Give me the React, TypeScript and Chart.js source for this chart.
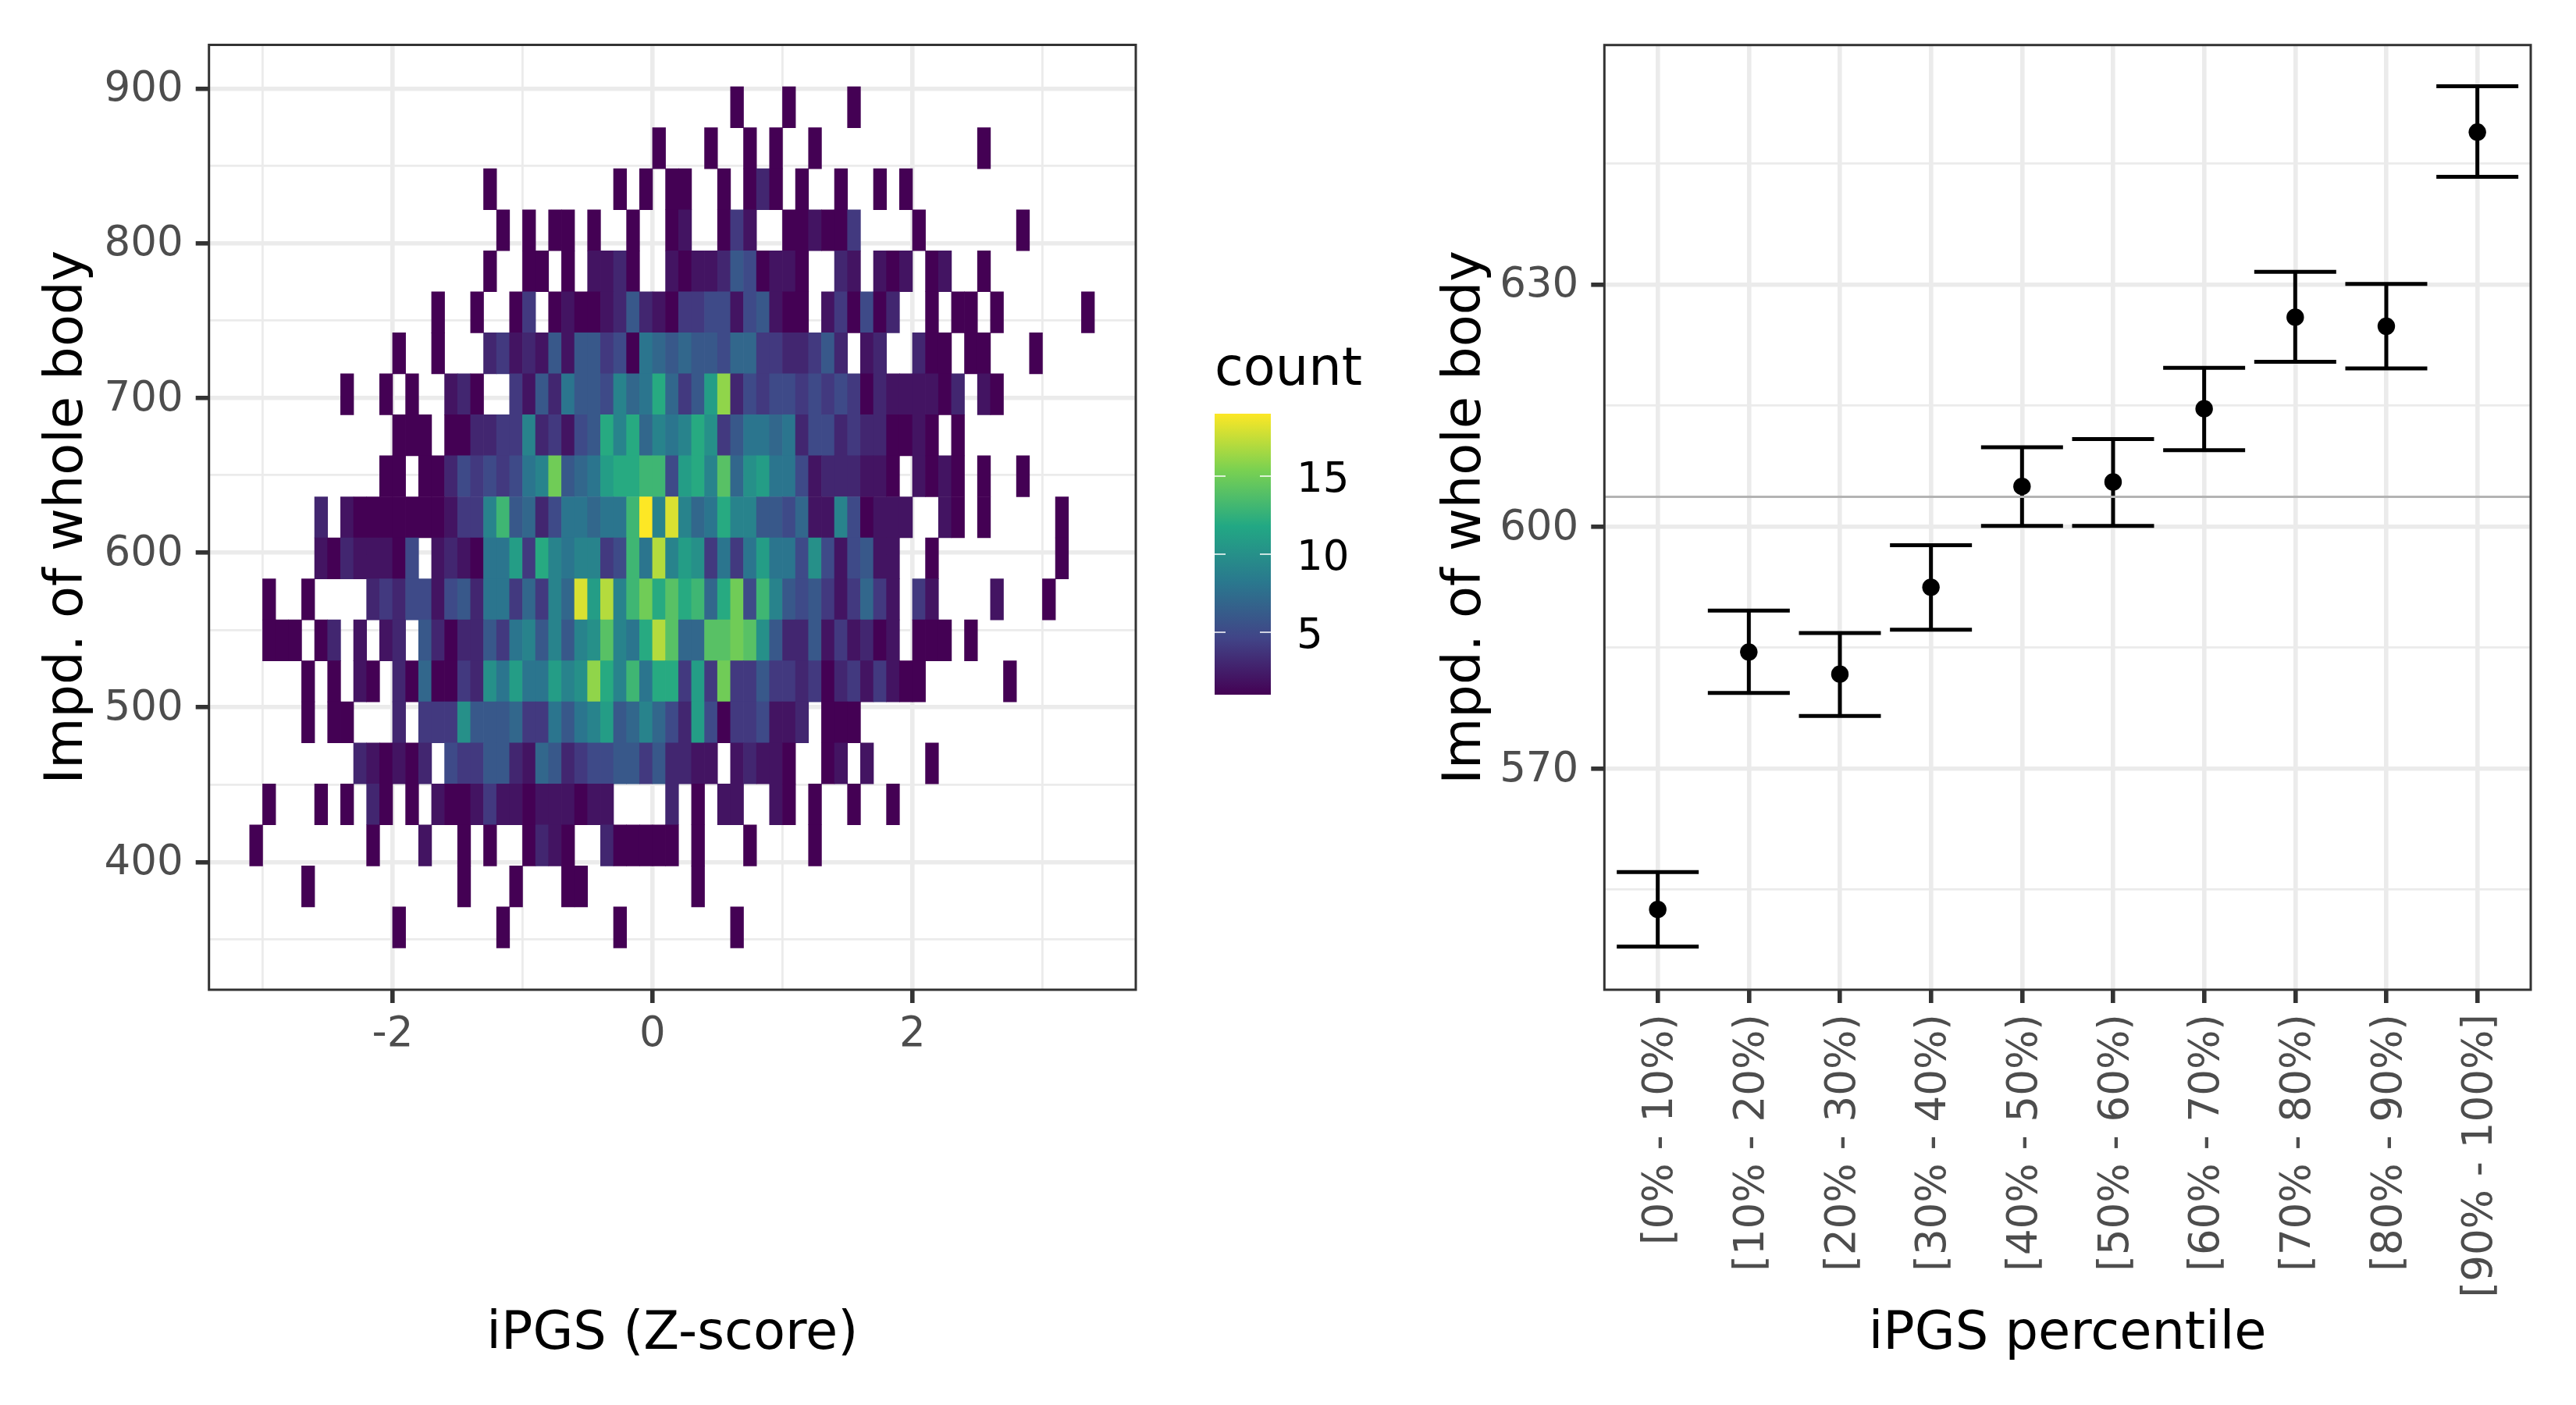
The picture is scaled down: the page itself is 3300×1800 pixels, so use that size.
import React, { useEffect, useRef } from "react";
import { Chart, registerables } from "chart.js";

Chart.register(...registerables);

const FONT = "'DejaVu Sans'";

// ---------- left panel data ----------
const xBinCenters = [
  -3.05, -2.95, -2.85, -2.75, -2.65, -2.55, -2.45, -2.35, -2.25, -2.15, -2.05, -1.95, -1.85,
  -1.75, -1.65, -1.55, -1.45, -1.35, -1.25, -1.15, -1.05, -0.95, -0.85, -0.75, -0.65, -0.55,
  -0.45, -0.35, -0.25, -0.15, -0.05, 0.05, 0.15, 0.25, 0.35, 0.45, 0.55, 0.65, 0.75, 0.85,
  0.95, 1.05, 1.15, 1.25, 1.35, 1.45, 1.55, 1.65, 1.75, 1.85, 1.95, 2.05, 2.15, 2.25, 2.35,
  2.45, 2.55, 2.65, 2.75, 2.85, 2.95, 3.05, 3.15, 3.25, 3.35,
];
const yBinCenters = [
  887.9, 861.39, 834.88, 808.37, 781.86, 755.35, 728.84, 702.33, 675.82, 649.31, 622.8,
  596.29, 569.78, 543.27, 516.76, 490.25, 463.74, 437.23, 410.72, 384.21, 357.7,
];
const yBinHeight = 26.51;
// one entry per row, top to bottom: { column index: count }
const rowCounts: Record<number, number>[] = [
  { 37: 1, 41: 1, 46: 1 },
  { 31: 1, 35: 1, 38: 1, 40: 1, 43: 1, 56: 1 },
  { 18: 1, 28: 1, 30: 1, 32: 1, 33: 1, 36: 1, 38: 1, 39: 3, 40: 1, 42: 1, 45: 1, 48: 1, 50: 1 },
  { 19: 1, 21: 1, 23: 1, 24: 1, 26: 1, 29: 1, 32: 1, 33: 2, 36: 1, 37: 4, 38: 2, 41: 1, 42: 1, 43: 2, 44: 1, 45: 1, 46: 4, 51: 1, 59: 1 },
  { 18: 1, 21: 1, 22: 1, 24: 1, 26: 2, 27: 2, 28: 3, 29: 1, 32: 2, 33: 1, 34: 2, 35: 2, 36: 3, 37: 6, 38: 5, 39: 1, 40: 2, 41: 2, 42: 1, 45: 3, 46: 2, 48: 2, 49: 1, 50: 2, 52: 1, 53: 2, 56: 1 },
  { 14: 1, 17: 1, 20: 1, 21: 4, 23: 1, 24: 2, 25: 1, 26: 1, 27: 2, 28: 3, 29: 6, 30: 3, 31: 2, 32: 1, 33: 4, 34: 4, 35: 5, 36: 5, 37: 2, 38: 5, 39: 6, 40: 2, 41: 1, 42: 1, 44: 2, 45: 4, 46: 1, 47: 5, 48: 1, 49: 3, 52: 1, 54: 1, 55: 1, 57: 1, 64: 1 },
  { 11: 1, 14: 1, 18: 3, 19: 4, 20: 2, 21: 3, 22: 2, 23: 6, 24: 2, 25: 6, 26: 6, 27: 4, 28: 5, 29: 1, 30: 8, 31: 7, 32: 6, 33: 7, 34: 6, 35: 6, 36: 5, 37: 7, 38: 7, 39: 4, 40: 4, 41: 3, 42: 3, 43: 4, 44: 6, 45: 3, 47: 2, 48: 3, 51: 3, 52: 1, 53: 1, 55: 1, 56: 1, 60: 1 },
  { 7: 1, 10: 1, 12: 1, 15: 2, 16: 3, 17: 1, 20: 4, 21: 2, 22: 6, 23: 3, 24: 8, 25: 6, 26: 6, 27: 5, 28: 9, 29: 7, 30: 8, 31: 12, 32: 7, 33: 4, 34: 6, 35: 11, 36: 16, 37: 3, 38: 5, 39: 4, 40: 5, 41: 5, 42: 4, 43: 5, 44: 4, 45: 5, 46: 4, 47: 1, 48: 3, 49: 2, 50: 2, 51: 2, 52: 2, 53: 1, 54: 3, 56: 2, 57: 1 },
  { 11: 1, 12: 1, 13: 1, 15: 1, 16: 1, 17: 3, 18: 3, 19: 4, 20: 4, 21: 9, 22: 3, 23: 4, 24: 2, 25: 5, 26: 6, 27: 12, 28: 9, 29: 12, 30: 7, 31: 9, 32: 8, 33: 9, 34: 12, 35: 10, 36: 4, 37: 6, 38: 8, 39: 8, 40: 7, 41: 8, 42: 3, 43: 5, 44: 5, 45: 3, 46: 4, 47: 3, 48: 3, 49: 1, 50: 1, 51: 2, 52: 1, 54: 1 },
  { 10: 1, 11: 1, 13: 1, 14: 1, 15: 3, 16: 5, 17: 4, 18: 5, 19: 4, 20: 5, 21: 8, 22: 9, 23: 15, 24: 6, 25: 7, 26: 8, 27: 11, 28: 12, 29: 12, 30: 13, 31: 13, 32: 5, 33: 11, 34: 12, 35: 9, 36: 14, 37: 7, 38: 10, 39: 11, 40: 8, 41: 8, 42: 5, 43: 2, 44: 3, 45: 3, 46: 3, 47: 2, 48: 2, 49: 1, 51: 2, 52: 1, 53: 2, 54: 1, 56: 1, 59: 1 },
  { 5: 3, 7: 2, 8: 1, 9: 1, 10: 1, 11: 1, 12: 1, 13: 1, 14: 1, 15: 2, 16: 4, 17: 4, 18: 9, 19: 13, 20: 6, 21: 7, 22: 3, 23: 5, 24: 8, 25: 8, 26: 7, 27: 8, 28: 8, 29: 13, 30: 19, 31: 9, 32: 18, 33: 9, 34: 7, 35: 8, 36: 12, 37: 9, 38: 9, 39: 6, 40: 6, 41: 5, 42: 7, 43: 2, 44: 2, 45: 9, 46: 5, 47: 1, 48: 2, 49: 2, 50: 2, 53: 2, 54: 1, 56: 1, 62: 1 },
  { 5: 2, 6: 1, 7: 3, 8: 2, 9: 2, 10: 2, 11: 1, 12: 5, 14: 2, 15: 3, 16: 2, 17: 1, 18: 8, 19: 8, 20: 11, 21: 4, 22: 12, 23: 9, 24: 8, 25: 9, 26: 9, 27: 4, 28: 5, 29: 13, 30: 8, 31: 17, 32: 9, 33: 11, 34: 10, 35: 4, 36: 8, 37: 4, 38: 8, 39: 11, 40: 8, 41: 8, 42: 5, 43: 10, 44: 5, 45: 2, 46: 5, 47: 6, 48: 2, 49: 2, 52: 1, 62: 1 },
  { 1: 1, 4: 1, 9: 3, 10: 4, 11: 3, 12: 5, 13: 5, 14: 2, 15: 5, 16: 6, 17: 3, 18: 8, 19: 8, 20: 4, 21: 7, 22: 4, 23: 9, 24: 7, 25: 18, 26: 11, 27: 17, 28: 9, 29: 13, 30: 15, 31: 12, 32: 14, 33: 12, 34: 13, 35: 7, 36: 12, 37: 15, 38: 5, 39: 13, 40: 9, 41: 6, 42: 5, 43: 6, 44: 4, 45: 2, 46: 4, 47: 7, 48: 4, 49: 2, 51: 4, 52: 2, 57: 2, 61: 1 },
  { 1: 1, 2: 1, 3: 1, 5: 1, 6: 3, 8: 2, 10: 2, 11: 3, 13: 6, 14: 3, 15: 1, 16: 3, 17: 3, 18: 6, 19: 4, 20: 8, 21: 9, 22: 6, 23: 9, 24: 6, 25: 9, 26: 10, 27: 14, 28: 9, 29: 8, 30: 12, 31: 17, 32: 14, 33: 7, 34: 7, 35: 14, 36: 14, 37: 15, 38: 14, 39: 10, 40: 6, 41: 3, 42: 3, 43: 6, 44: 2, 45: 4, 46: 2, 47: 3, 48: 1, 49: 2, 51: 1, 52: 1, 53: 1, 55: 1 },
  { 4: 1, 6: 1, 8: 2, 9: 1, 11: 3, 12: 1, 13: 7, 14: 1, 15: 1, 16: 4, 17: 3, 18: 10, 19: 8, 20: 11, 21: 8, 22: 8, 23: 11, 24: 9, 25: 10, 26: 16, 27: 12, 28: 9, 29: 13, 30: 8, 31: 12, 32: 12, 33: 4, 34: 11, 35: 4, 36: 15, 37: 4, 38: 4, 39: 6, 40: 4, 41: 4, 42: 3, 43: 4, 44: 1, 45: 3, 46: 4, 47: 2, 48: 4, 49: 2, 50: 1, 51: 1, 58: 1 },
  { 4: 1, 6: 1, 7: 1, 11: 3, 13: 4, 14: 4, 15: 4, 16: 10, 17: 6, 18: 6, 19: 6, 20: 7, 21: 4, 22: 4, 23: 8, 24: 6, 25: 8, 26: 9, 27: 11, 28: 6, 29: 7, 30: 9, 31: 7, 32: 5, 33: 3, 34: 11, 35: 5, 36: 1, 37: 4, 38: 4, 39: 5, 40: 2, 41: 2, 42: 3, 44: 1, 45: 1, 46: 1 },
  { 8: 3, 9: 2, 10: 1, 11: 2, 12: 1, 13: 3, 15: 5, 16: 4, 17: 4, 18: 6, 19: 6, 20: 3, 21: 2, 22: 7, 23: 6, 24: 3, 25: 4, 26: 5, 27: 5, 28: 6, 29: 6, 30: 4, 31: 6, 32: 3, 33: 3, 34: 2, 35: 2, 37: 2, 38: 3, 39: 2, 40: 2, 41: 1, 44: 1, 45: 2, 47: 2, 52: 1 },
  { 1: 1, 5: 1, 7: 1, 9: 3, 10: 1, 12: 1, 14: 2, 15: 1, 16: 1, 17: 2, 18: 4, 19: 2, 20: 2, 21: 1, 22: 2, 23: 2, 24: 2, 25: 1, 26: 2, 27: 2, 32: 3, 34: 1, 36: 2, 37: 2, 40: 2, 41: 1, 43: 1, 46: 1, 49: 1 },
  { 0: 1, 9: 1, 13: 2, 16: 1, 18: 1, 21: 1, 22: 3, 23: 2, 24: 1, 27: 3, 28: 1, 29: 1, 30: 1, 31: 1, 32: 1, 34: 1, 38: 1, 43: 1 },
  { 4: 1, 16: 1, 20: 1, 24: 1, 25: 1, 34: 1 },
  { 11: 1, 19: 1, 28: 1, 37: 1 },
];
const countMin = 1;
const countMax = 19;
const legendTicks = [5, 10, 15];
const viridisStops = ["#440154", "#414487", "#2A788E", "#22A884", "#7AD151", "#FDE725"];

const leftXMajor = [-2, 0, 2];
const leftXMinor = [-3, -1, 1, 3];
const leftYMajor = [400, 500, 600, 700, 800, 900];
const leftYMinor = [350, 450, 550, 650, 750, 850];

// ---------- right panel data ----------
const percentileLabels = [
  "[0% - 10%)", "[10% - 20%)", "[20% - 30%)", "[30% - 40%)", "[40% - 50%)",
  "[50% - 60%)", "[60% - 70%)", "[70% - 80%)", "[80% - 90%)", "[90% - 100%]",
];
const meanValues = [552.55, 584.46, 581.72, 592.49, 604.99, 605.54, 614.62, 625.96, 624.84, 648.9];
const upperValues = [557.19, 589.6, 586.82, 597.71, 609.84, 610.87, 619.69, 631.58, 630.1, 654.59];
const lowerValues = [547.95, 579.4, 576.54, 587.23, 600.1, 600.1, 609.47, 620.43, 619.61, 643.38];
const overallMean = 603.7;
const capHalfWidth = 0.45;
const rightYMajor = [570, 600, 630];
const rightYMinor = [555, 585, 615, 645];

// ---------- style helpers ----------
const GRID = "#EBEBEB";
const BORDER = "#333333";
const TICK_TEXT = "#4D4D4D";
const TICK_SIZE = 53;
const TITLE_SIZE = 67;

function hexToRgb(h: string) {
  return [1, 3, 5].map((i) => parseInt(h.slice(i, i + 2), 16));
}
function countColor(v: number) {
  const t = (v - countMin) / (countMax - countMin);
  const p = Math.min(t * (viridisStops.length - 1), viridisStops.length - 1.0001);
  const i = Math.floor(p);
  const a = hexToRgb(viridisStops[i]);
  const b = hexToRgb(viridisStops[i + 1]);
  const f = p - i;
  const c = a.map((x, k) => Math.round(x + (b[k] - x) * f));
  return `rgb(${c[0]},${c[1]},${c[2]})`;
}

const panelBorder = {
  id: "panelBorder",
  afterDatasetsDraw(chart: any) {
    const { ctx, chartArea: a } = chart;
    ctx.save();
    ctx.strokeStyle = BORDER;
    ctx.lineWidth = 3;
    ctx.strokeRect(a.left, a.top, a.right - a.left, a.bottom - a.top);
    ctx.restore();
  },
};

const LEG = { left: 1556, right: 1628, top: 530, bottom: 890, tick: 14, labelX: 1661, titleY: 493 };
const colorLegend = {
  id: "colorLegend",
  afterDraw(chart: any) {
    const { ctx } = chart;
    ctx.save();
    const g = ctx.createLinearGradient(0, LEG.bottom, 0, LEG.top);
    viridisStops.forEach((c, i) => g.addColorStop(i / (viridisStops.length - 1), c));
    ctx.fillStyle = g;
    ctx.fillRect(LEG.left, LEG.top, LEG.right - LEG.left, LEG.bottom - LEG.top);
    const yOf = (v: number) =>
      LEG.bottom - ((v - countMin) / (countMax - countMin)) * (LEG.bottom - LEG.top);
    ctx.strokeStyle = "#FFFFFF";
    ctx.lineWidth = 1.4;
    ctx.fillStyle = "#000000";
    ctx.font = `${TICK_SIZE}px ${FONT}`;
    ctx.textBaseline = "middle";
    ctx.textAlign = "left";
    legendTicks.forEach((v) => {
      const y = yOf(v);
      ctx.beginPath();
      ctx.moveTo(LEG.left, y);
      ctx.lineTo(LEG.left + LEG.tick, y);
      ctx.moveTo(LEG.right - LEG.tick, y);
      ctx.lineTo(LEG.right, y);
      ctx.stroke();
      ctx.fillText(String(v), LEG.labelX, y + 6);
    });
    ctx.font = `${TITLE_SIZE}px ${FONT}`;
    ctx.textBaseline = "alphabetic";
    ctx.fillText("count", LEG.left, LEG.titleY);
    ctx.restore();
  },
};

function axisBase(major: number[], minor: number[], label: (v: number) => string, padding: number, labelOffset: number) {
  const isMajor = (c: any) => major.includes(c.tick?.value);
  return {
    afterBuildTicks: (s: any) => {
      s.ticks = [...major, ...minor].sort((a, b) => a - b).map((value) => ({ value }));
    },
    border: { display: false },
    grid: {
      color: GRID,
      lineWidth: (c: any) => (isMajor(c) ? 5.6 : 2.8),
      tickColor: (c: any) => (isMajor(c) ? BORDER : "rgba(0,0,0,0)"),
      tickWidth: (c: any) => (isMajor(c) ? 5.6 : 0),
      tickLength: 17,
      offset: false,
    },
    ticks: {
      autoSkip: false,
      padding,
      labelOffset,
      color: TICK_TEXT,
      font: { family: FONT, size: TICK_SIZE },
      callback: (v: number) => (major.includes(v) ? label(v) : ""),
    },
  };
}

function fixBox(size: number, horizontal: boolean) {
  return (s: any) => {
    if (horizontal) s.height = size;
    else s.width = size;
    s.paddingLeft = s.paddingRight = s.paddingTop = s.paddingBottom = 0;
  };
}

const axisTitle = (text: string, padding: any) => ({
  display: true,
  text,
  color: "#000000",
  font: { family: FONT, size: TITLE_SIZE },
  padding,
});

function useChart(make: (c: HTMLCanvasElement) => Chart) {
  const ref = useRef<HTMLCanvasElement>(null);
  useEffect(() => {
    const chart = make(ref.current as HTMLCanvasElement);
    return () => chart.destroy();
  }, []);
  return ref;
}

function makeHeatmap(canvas: HTMLCanvasElement) {
  const cells: any[] = [];
  rowCounts.forEach((row, r) => {
    Object.keys(row).forEach((k) => {
      const c = Number(k);
      cells.push({
        x: xBinCenters[c],
        y: [yBinCenters[r] - yBinHeight / 2, yBinCenters[r] + yBinHeight / 2],
        count: row[c],
      });
    });
  });
  return new Chart(canvas, {
    type: "bar",
    data: {
      datasets: [
        {
          label: "count",
          data: cells,
          grouped: false,
          barPercentage: 1,
          categoryPercentage: 1,
          borderWidth: 0,
          backgroundColor: (c: any) => countColor(c.raw?.count ?? 1),
        } as any,
      ],
    },
    options: {
      responsive: false,
      animation: false,
      devicePixelRatio: 1,
      layout: { padding: { left: 0, top: 57.5, right: 345, bottom: 0 } },
      plugins: { legend: { display: false }, tooltip: { enabled: false } },
      scales: {
        x: {
          type: "linear",
          min: -3.413,
          max: 3.718,
          offset: false,
          afterFit: fixBox(532, true),
          title: axisTitle("iPGS (Z-score)", { top: 0, bottom: 49 }),
          ...axisBase(leftXMajor, leftXMinor, (v) => String(v), 9, 0),
        },
        y: {
          type: "linear",
          min: 317.4,
          max: 928.2,
          afterFit: fixBox(267.7, false),
          title: axisTitle("Impd. of whole body", { top: 47, bottom: 0 }),
          ...axisBase(leftYMajor, leftYMinor, (v) => String(v), 16, 2),
        },
      } as any,
    },
    plugins: [panelBorder, colorLegend],
  } as any);
}

function makeErrorPlot(canvas: HTMLCanvasElement) {
  const stems: any[] = [];
  const capsHigh: any[] = [];
  const capsLow: any[] = [];
  const gap = { x: NaN, y: NaN };
  percentileLabels.forEach((_, i) => {
    stems.push({ x: i, y: lowerValues[i] }, { x: i, y: upperValues[i] }, gap);
    capsHigh.push({ x: i - capHalfWidth, y: upperValues[i] }, { x: i + capHalfWidth, y: upperValues[i] }, gap);
    capsLow.push({ x: i - capHalfWidth, y: lowerValues[i] }, { x: i + capHalfWidth, y: lowerValues[i] }, gap);
  });
  const xMin = -0.586;
  const xMax = 9.586;
  const lineBase = { type: "line", pointRadius: 0, borderColor: "#000000", borderWidth: 5, spanGaps: false, tension: 0, fill: false };
  return new Chart(canvas, {
    type: "scatter",
    data: {
      datasets: [
        {
          ...lineBase,
          label: "overall mean",
          data: [{ x: xMin, y: overallMean }, { x: xMax, y: overallMean }],
          borderColor: "#B3B3B3",
          borderWidth: 2.8,
        },
        { ...lineBase, label: "range", data: stems },
        { ...lineBase, label: "upper", data: capsHigh },
        { ...lineBase, label: "lower", data: capsLow },
        {
          type: "scatter",
          label: "mean",
          data: meanValues.map((y, x) => ({ x, y })),
          pointRadius: 11.2,
          pointBackgroundColor: "#000000",
          pointBorderWidth: 0,
        },
      ],
    },
    options: {
      responsive: false,
      animation: false,
      devicePixelRatio: 1,
      layout: { padding: { left: 0, top: 57.7, right: 58, bottom: 0 } },
      plugins: { legend: { display: false }, tooltip: { enabled: false } },
      scales: {
        x: {
          type: "linear",
          min: xMin,
          max: xMax,
          afterFit: fixBox(532, true),
          title: axisTitle("iPGS percentile", { top: 0, bottom: 49 }),
          ...(() => {
            const a: any = axisBase(percentileLabels.map((_, i) => i), [], (v) => percentileLabels[v], 14, 5);
            a.ticks.minRotation = 90;
            a.ticks.maxRotation = 90;
            return a;
          })(),
        },
        y: {
          type: "linear",
          min: 542.6,
          max: 659.7,
          afterFit: fixBox(255.3, false),
          title: axisTitle("Impd. of whole body", { top: 38, bottom: 0 }),
          ...axisBase(rightYMajor, rightYMinor, (v) => String(v), 16, 2),
        },
      } as any,
    },
    plugins: [panelBorder],
  } as any);
}

export default function App() {
  const left = useChart(makeHeatmap);
  const right = useChart(makeErrorPlot);
  return (
    <div style={{ position: "absolute", left: 0, top: 0, width: 3300, height: 1800, background: "#FFFFFF", overflow: "hidden" }}>
      <canvas ref={left} width={1800} height={1800} style={{ position: "absolute", left: 0, top: 0, width: 1800, height: 1800 }} />
      <canvas ref={right} width={1500} height={1800} style={{ position: "absolute", left: 1800, top: 0, width: 1500, height: 1800 }} />
    </div>
  );
}
